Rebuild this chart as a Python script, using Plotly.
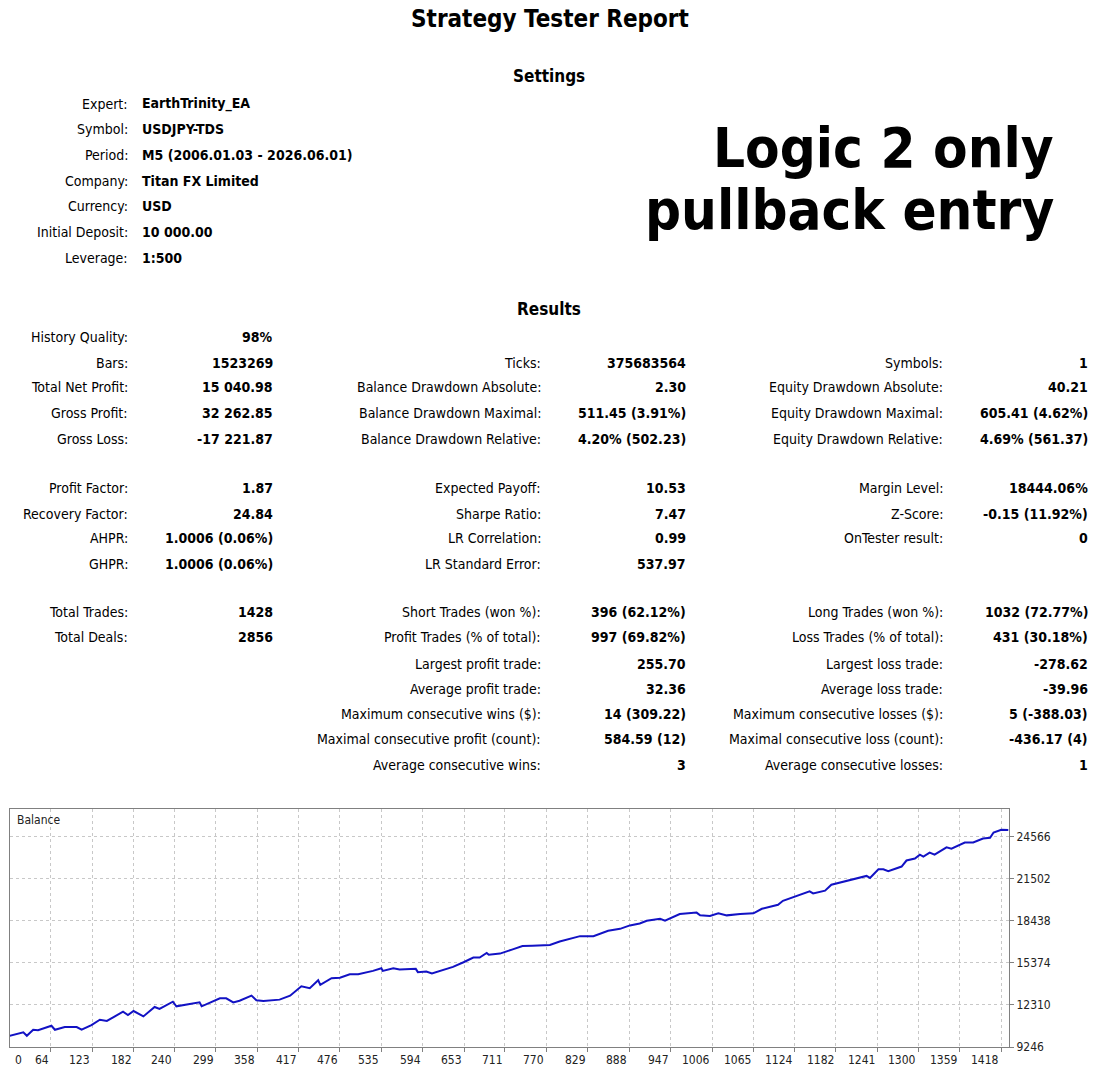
import plotly.graph_objects as go

# the page body keeps its default 8px margin, so the figure is drawn
# 8px in from the window edge; reference pixel positions are shifted by it
OFF = 8
W, H = 1101 - 2 * OFF, 1080 - 2 * OFF
FONT = "DejaVu Sans Condensed, Tahoma, DejaVu Sans, sans-serif"

# --- report text -----------------------------------------------------------
settings_labels = ["Expert:", "Symbol:", "Period:", "Company:", "Currency:",
                   "Initial Deposit:", "Leverage:"]
settings_values = ["EarthTrinity_EA", "USDJPY-TDS", "M5 (2006.01.03 - 2026.06.01)",
                   "Titan FX Limited", "USD", "10 000.00", "1:500"]

col1_labels = ["History Quality:", "Bars:", "Total Net Profit:", "Gross Profit:",
               "Gross Loss:", "Profit Factor:", "Recovery Factor:", "AHPR:", "GHPR:",
               "Total Trades:", "Total Deals:"]
col1_values = ["98%", "1523269", "15 040.98", "32 262.85", "-17 221.87", "1.87",
               "24.84", "1.0006 (0.06%)", "1.0006 (0.06%)", "1428", "2856"]
col1_rows = [0, 1, 2, 3, 4, 5, 6, 7, 8, 9, 10]

col2_labels = ["Ticks:", "Balance Drawdown Absolute:", "Balance Drawdown Maximal:",
               "Balance Drawdown Relative:", "Expected Payoff:", "Sharpe Ratio:",
               "LR Correlation:", "LR Standard Error:", "Short Trades (won %):",
               "Profit Trades (% of total):", "Largest profit trade:",
               "Average profit trade:", "Maximum consecutive wins ($):",
               "Maximal consecutive profit (count):", "Average consecutive wins:"]
col2_values = ["375683564", "2.30", "511.45 (3.91%)", "4.20% (502.23)", "10.53", "7.47",
               "0.99", "537.97", "396 (62.12%)", "997 (69.82%)", "255.70", "32.36",
               "14 (309.22)", "584.59 (12)", "3"]
col2_rows = [1, 2, 3, 4, 5, 6, 7, 8, 9, 10, 11, 12, 13, 14, 15]

col3_labels = ["Symbols:", "Equity Drawdown Absolute:", "Equity Drawdown Maximal:",
               "Equity Drawdown Relative:", "Margin Level:", "Z-Score:",
               "OnTester result:", "Long Trades (won %):", "Loss Trades (% of total):",
               "Largest loss trade:", "Average loss trade:",
               "Maximum consecutive losses ($):", "Maximal consecutive loss (count):",
               "Average consecutive losses:"]
col3_values = ["1", "40.21", "605.41 (4.62%)", "4.69% (561.37)", "18444.06%",
               "-0.15 (11.92%)", "0", "1032 (72.77%)", "431 (30.18%)", "-278.62",
               "-39.96", "5 (-388.03)", "-436.17 (4)", "1"]
col3_rows = [1, 2, 3, 4, 5, 6, 7, 9, 10, 11, 12, 13, 14, 15]

# --- balance curve (trade number, balance) ---------------------------------
trade_no = [0, 25, 30, 39, 46, 65, 70, 84, 101, 108, 122, 134, 144, 167, 174, 182,
            196, 212, 219, 238, 243, 262, 276, 279, 295, 305, 314, 324, 333, 350,
            357, 367, 390, 405, 421, 433, 445, 448, 464, 476, 490, 502, 523, 535,
            537, 552, 561, 584, 587, 599, 607, 619, 637, 652, 666, 675, 685, 688,
            704, 721, 736, 750, 775, 789, 799, 818, 837, 851, 858, 875, 889, 903,
            913, 932, 939, 960, 984, 989, 1003, 1015, 1027, 1046, 1065, 1077, 1089,
            1100, 1107, 1127, 1145, 1150, 1167, 1176, 1188, 1207, 1226, 1231, 1243,
            1250, 1257, 1276, 1283, 1295, 1302, 1307, 1316, 1323, 1340, 1347, 1366,
            1378, 1392, 1402, 1407, 1418, 1428]
balance = [10000, 10320, 10070, 10510, 10480, 10800, 10510, 10705, 10705, 10510,
           10850, 11240, 11150, 11820, 11580, 11870, 11480, 12165, 12020, 12550,
           12215, 12405, 12500, 12215, 12550, 12800, 12800, 12500, 12620, 12990,
           12650, 12600, 12700, 12990, 13670, 13530, 14110, 13770, 14260, 14300,
           14550, 14550, 14790, 14980, 14790, 14980, 14890, 14940, 14700, 14740,
           14600, 14790, 15080, 15420, 15760, 15760, 16100, 15960, 16050, 16340,
           16600, 16620, 16680, 16930, 17070, 17320, 17320, 17560, 17710, 17850,
           18100, 18240, 18440, 18580, 18440, 18930, 19030, 18830, 18790, 18980,
           18830, 18930, 18980, 19310, 19450, 19600, 19890, 20240, 20580, 20430,
           20630, 21060, 21200, 21450, 21700, 21550, 22180, 22180, 22040, 22380,
           22820, 22960, 23250, 23110, 23400, 23250, 23780, 23680, 24130, 24130,
           24420, 24470, 24860, 25050, 25041]

x_ticks = [0, 64, 123, 182, 240, 299, 358, 417, 476, 535, 594, 653, 711, 770, 829,
           888, 947, 1006, 1065, 1124, 1182, 1241, 1300, 1359, 1418]
y_ticks = [9246, 12310, 15374, 18438, 21502, 24566]
x_range = [6, 1429]
y_range = [9246, 26590]


def px(x):
    return (x - OFF) / W


def py(y):
    return 1 - (y - OFF) / H


annotations = []


def text(x, y, s, size=14, bold=False, anchor="left"):
    annotations.append(dict(
        x=px(x), y=py(y), xref="paper", yref="paper", text=f"<b>{s}</b>" if bold else s,
        showarrow=False, xanchor=anchor, yanchor="middle",
        font=dict(family=FONT, size=size, color="#000000"),
    ))


text(550, 19, "Strategy Tester Report", size=24, bold=True, anchor="center")
text(549, 76, "Settings", size=17, bold=True, anchor="center")
text(549, 311, "Results", size=17, bold=True, anchor="center")

for i, (lab, val) in enumerate(zip(settings_labels, settings_values)):
    y = 104.5 + i * 25.8
    text(130, y, lab, anchor="right")
    text(140, y, val, bold=True)

text(1056, 148, "Logic 2 only", size=56, bold=True, anchor="right")
text(1056, 211, "pullback entry", size=56, bold=True, anchor="right")

# rows of the results table (pixel centres)
row_y = [339, 365, 390, 416, 442, 491, 517, 542, 568, 616, 641, 668, 694, 719, 744, 770]

for labels, values, rows, lab_x, val_x in [
    (col1_labels, col1_values, col1_rows, 130, 275),
    (col2_labels, col2_values, col2_rows, 543, 688),
    (col3_labels, col3_values, col3_rows, 945, 1090),
]:
    for lab, val, r in zip(labels, values, rows):
        text(lab_x, row_y[r], lab, anchor="right")
        text(val_x, row_y[r], val, bold=True, anchor="right")

# balance chart
x_dom = [px(10), px(1009)]
y_dom = [py(1054), py(814)]

fig = go.Figure()
fig.add_trace(go.Scatter(
    x=trade_no, y=balance, mode="lines",
    line=dict(color="#1212c4", width=2), hoverinfo="skip", showlegend=False,
))

# x labels sit to the left of their grid line, like the MT5 report
for v in x_ticks:
    pos = max(v, x_range[0])
    annotations.append(dict(
        x=pos, y=py(1067), xref="x", yref="paper", text=str(v), showarrow=False,
        xanchor="left" if v == 0 else "right", yanchor="middle",
        xshift=3 if v == 0 else 0,
        font=dict(family=FONT, size=12, color="#222222"),
    ))

annotations.append(dict(
    x=px(15), y=py(825), xref="paper", yref="paper", text="Balance", showarrow=False,
    xanchor="left", yanchor="middle", font=dict(family=FONT, size=12, color="#222222"),
))

fig.update_layout(
    width=W, height=H,
    margin=dict(l=0, r=0, t=0, b=0),
    paper_bgcolor="white", plot_bgcolor="white",
    annotations=annotations,
    xaxis=dict(
        domain=x_dom, range=x_range, tickvals=x_ticks, showticklabels=False,
        showgrid=True, gridcolor="#c8c8c8", griddash="dot", gridwidth=1,
        ticks="outside", ticklen=4, tickcolor="#808080",
        showline=True, linecolor="#808080", linewidth=1, mirror=True, zeroline=False,
    ),
    yaxis=dict(
        domain=y_dom, range=y_range, tickvals=y_ticks,
        ticktext=[str(v) for v in y_ticks], side="right",
        showgrid=True, gridcolor="#c8c8c8", griddash="dot", gridwidth=1,
        ticks="outside", ticklen=4, tickcolor="#808080",
        tickfont=dict(family=FONT, size=12, color="#222222"),
        showline=True, linecolor="#808080", linewidth=1, mirror=True, zeroline=False,
    ),
)

fig.write_html("out.html")
